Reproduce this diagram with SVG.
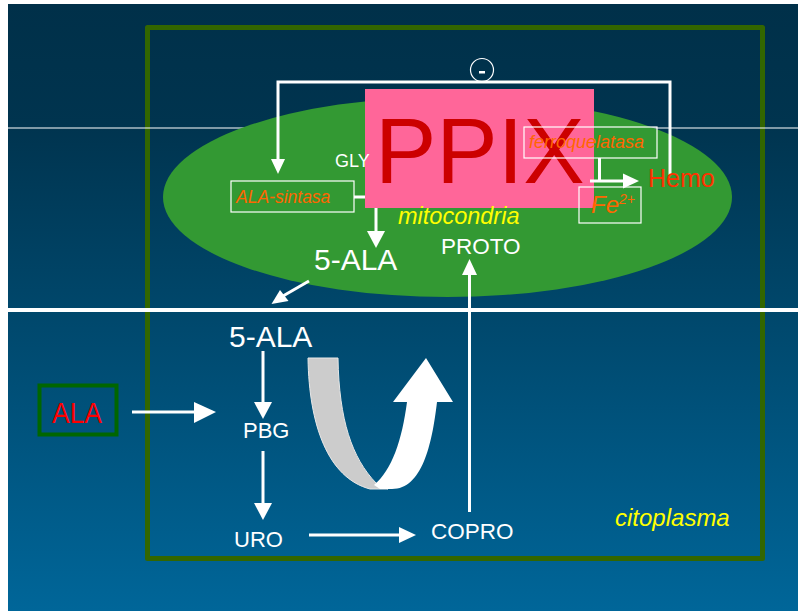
<svg xmlns="http://www.w3.org/2000/svg" width="798" height="611" viewBox="0 0 798 611">
<defs>
<linearGradient id="bg" x1="0" y1="0" x2="0" y2="1">
<stop offset="0" stop-color="#003049"/>
<stop offset="0.2" stop-color="#00344f"/>
<stop offset="1" stop-color="#006699"/>
</linearGradient>
<style>
text{font-family:"Liberation Sans",Arial,sans-serif;}
.w{fill:#ffffff;}
.ln{stroke:#ffffff;fill:none;stroke-width:3;}
.hd{fill:#ffffff;}
.box{fill:none;stroke:#ffffff;stroke-width:1.2;}
.enz{fill:#ff6600;font-style:italic;}
.yl{fill:#ffff00;font-style:italic;}
</style>
</defs>
<rect x="0" y="0" width="798" height="611" fill="#ffffff"/>
<rect x="8" y="4" width="790" height="607" fill="url(#bg)"/>
<rect id="frame" x="147.5" y="27.5" width="615" height="531" fill="none" stroke="#336600" stroke-width="5" stroke-linejoin="round"/>
<line x1="8" y1="128" x2="798" y2="128" stroke="#ffffff" stroke-width="1.2"/>
<line x1="8" y1="310" x2="798" y2="310" stroke="#ffffff" stroke-width="4"/>
<ellipse id="mitocondria-shape" cx="447.5" cy="197" rx="284.5" ry="100" fill="#339933"/>

<g id="connectors">
<path class="ln" d="M670,175 V82 H278 V160"/>
<polygon class="hd" points="271,159 285,159 278,174"/>
<path class="ln" d="M354,197 H376 V232"/>
<polygon class="hd" points="367,231 385,231 376,248"/>
<line class="ln" x1="309" y1="281" x2="283" y2="296"/>
<polygon class="hd" points="271.5,304 280,290 288.5,301"/>
<line class="ln" x1="263" y1="351" x2="263" y2="403"/>
<polygon class="hd" points="254,402 272,402 263,419"/>
<line class="ln" x1="263" y1="451" x2="263" y2="504"/>
<polygon class="hd" points="254,503 272,503 263,520"/>
<line class="ln" x1="309" y1="535" x2="400" y2="535"/>
<polygon class="hd" points="399,527 399,543 416,535"/>
<line class="ln" x1="132" y1="412" x2="196" y2="412" stroke-width="6"/>
<polygon class="hd" points="194,402 194,423 216,412"/>
<line class="ln" x1="469.5" y1="512" x2="469.5" y2="274"/>
<polygon class="hd" points="462,275 477,275 469.5,259"/>
</g>

<g id="ppix">
<rect x="365" y="89" width="229" height="119" fill="#ff6699"/>
<text x="375" y="183" font-size="92" fill="#cc0000">PPIX</text>
</g>

<g id="connectors-2">
<path class="ln" d="M599.5,158 V181" />
<line class="ln" x1="590" y1="181" x2="625" y2="181" stroke-width="4"/>
<polygon class="hd" points="623,173.5 623,188.5 639,181"/>
</g>

<g id="inhibicion">
<circle cx="482" cy="70" r="11.5" fill="none" stroke="#ffffff" stroke-width="1.2"/>
<rect x="479" y="71" width="6" height="2.5" fill="#ffffff"/>
</g>

<g id="ala-sintasa">
<rect class="box" x="231" y="181" width="123" height="31"/>
<text class="enz" x="236" y="203" font-size="17.5">ALA-sintasa</text>
</g>
<g id="gly"><text class="w" x="335" y="167" font-size="18">GLY</text></g>
<g id="ferroquelatasa">
<rect class="box" x="524" y="127" width="133" height="31"/>
<text class="enz" x="529" y="148" font-size="18">ferroquelatasa</text>
</g>
<g id="hemo"><text x="648" y="187" font-size="25" fill="#ff3300">Hemo</text></g>
<g id="fe">
<rect class="box" x="579" y="187" width="62" height="36"/>
<text class="enz" x="591" y="213" font-size="24">Fe<tspan font-size="14" dy="-9">2+</tspan></text>
</g>
<g id="mito-label"><text class="yl" x="398" y="224" font-size="23.5">mitocondria</text></g>
<g id="proto"><text class="w" x="441" y="254" font-size="22.5">PROTO</text></g>
<g id="ala5-mito"><text class="w" x="314" y="270" font-size="30">5-ALA</text></g>
<g id="ala5-cito"><text class="w" x="229" y="347" font-size="30">5-ALA</text></g>
<g id="pbg"><text class="w" x="243" y="438" font-size="22">PBG</text></g>
<g id="uro"><text class="w" x="234" y="547" font-size="22">URO</text></g>
<g id="copro"><text class="w" x="431" y="539" font-size="22.5">COPRO</text></g>
<g id="citoplasma-label"><text class="yl" x="615" y="526" font-size="24">citoplasma</text></g>
<g id="ala">
<rect x="39.5" y="385.5" width="77" height="49" fill="none" stroke="#006600" stroke-width="4"/>
<text x="52" y="423" font-size="29" fill="#ff0000" textLength="50" lengthAdjust="spacingAndGlyphs">ALA</text>
</g>
<g id="ciclo">
<path d="M308,358 L338,358 C339,420 352,458 376,483 L388,489 L370,489 C328,478 309,425 308,358 Z" fill="#cccccc" stroke="#e8e8e8" stroke-width="1"/>
<path d="M374,485 C392,470 402,440 407,402 L393,402 L426,358 L453,402 L437,402 C432,445 422,489 392,489 L380,489 Z" fill="#ffffff"/>
</g>
</svg>
